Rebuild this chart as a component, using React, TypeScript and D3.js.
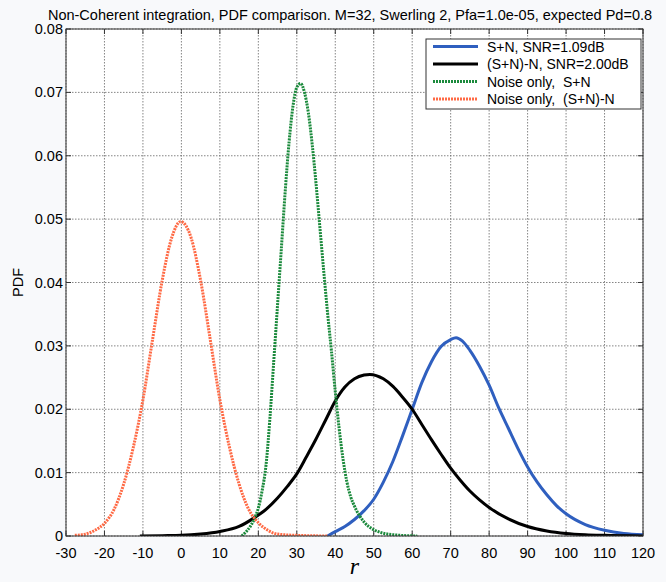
import React from "react";
import * as d3 from "d3";

// ---- data ----
const title =
  "Non-Coherent integration, PDF comparison. M=32, Swerling 2, Pfa=1.0e-05, expected Pd=0.8";
const xTicks = [-30, -20, -10, 0, 10, 20, 30, 40, 50, 60, 70, 80, 90, 100, 110, 120];
const yTicks = [0, 0.01, 0.02, 0.03, 0.04, 0.05, 0.06, 0.07, 0.08];
const yTickLabels = ["0", "0.01", "0.02", "0.03", "0.04", "0.05", "0.06", "0.07", "0.08"];

const legendLabels = [
  "S+N, SNR=1.09dB",
  "(S+N)-N, SNR=2.00dB",
  "Noise only,  S+N",
  "Noise only,  (S+N)-N",
];

// S+N (blue)
const snR = [38, 40, 42.5, 45, 47.5, 50, 52.5, 55, 57.5, 60, 62.5, 65, 67.5, 70, 71.4, 73, 75, 77.5, 80, 82.5, 85, 87.5, 90, 92.5, 95, 97.5, 100, 105, 110, 115, 120];
const snPdf = [0, 0.0007, 0.0015, 0.0026, 0.004, 0.0058, 0.0085, 0.0118, 0.0158, 0.02, 0.0242, 0.0275, 0.0299, 0.031, 0.0313, 0.0308, 0.0293, 0.0268, 0.0238, 0.0202, 0.017, 0.0138, 0.0109, 0.0085, 0.0065, 0.0048, 0.0035, 0.0018, 0.0009, 0.0004, 0.0002];

// (S+N)-N (black)
const diffR = [-10.8, -5, 0, 5, 10, 15, 19, 22, 25, 27.5, 30, 32.5, 35, 37.5, 40, 42.5, 45, 47.5, 49, 52.5, 55, 57.5, 60, 62.5, 65, 67.5, 70, 72.5, 75, 77.5, 80, 85, 90, 95, 100, 105, 110, 120];
const diffPdf = [0, 0.00005, 0.0001, 0.0003, 0.0007, 0.0015, 0.0029, 0.0042, 0.006, 0.0078, 0.0098, 0.0125, 0.0153, 0.0183, 0.0213, 0.0235, 0.0248, 0.0254, 0.0255, 0.0248, 0.0236, 0.0219, 0.02, 0.0176, 0.0152, 0.0129, 0.0107, 0.0088, 0.0071, 0.0057, 0.0045, 0.0027, 0.0015, 0.0008, 0.0004, 0.0002, 0.0001, 0];

// Noise only, S+N (green dotted)
const nsnR = [15.7, 17, 18, 19.1, 20, 21, 22, 23, 24, 25, 26, 27, 28, 29, 30, 31, 32, 33, 34, 35, 36, 37, 38, 39, 40, 41, 42, 43, 44, 45, 47.5, 50, 55, 61.3];
const nsnPdf = [0, 0.0008, 0.0016, 0.0029, 0.0044, 0.0072, 0.0112, 0.0185, 0.0275, 0.0365, 0.0455, 0.0545, 0.0622, 0.0678, 0.0708, 0.0714, 0.07, 0.0668, 0.0618, 0.0556, 0.0487, 0.0418, 0.0352, 0.0292, 0.0228, 0.017, 0.0122, 0.0086, 0.0062, 0.0047, 0.0022, 0.001, 0.0002, 0];

// Noise only, (S+N)-N (orange dotted)
const ndR = [-27.7, -25, -22.5, -20, -17.5, -15, -12.5, -10, -7.5, -5, -2.5, -0.2, 2.5, 5, 7.5, 10, 12.5, 15, 17.5, 20, 22.5, 25, 30, 38];
const ndPdf = [0.0001, 0.0003, 0.0009, 0.002, 0.0042, 0.0082, 0.014, 0.0215, 0.031, 0.0403, 0.0471, 0.0496, 0.0471, 0.0403, 0.031, 0.0215, 0.014, 0.0082, 0.0042, 0.0021, 0.0009, 0.0003, 0.0001, 0];

// ---- layout ----
const W = 666;
const H = 582;
const L = 66, R = 643, T = 29, B = 536;
const FONT = "'Liberation Sans', Arial, sans-serif";

const colors = ["#2f5fbf", "#000000", "#1b8a3c", "#ff6a45"];

export default function App() {
  const x = d3.scaleLinear().domain([-30, 120]).range([L, R]);
  const y = d3.scaleLinear().domain([0, 0.08]).range([B, T]);
  const line = d3
    .line<[number, number]>()
    .x((d) => x(d[0]))
    .y((d) => y(d[1]))
    .curve(d3.curveMonotoneX);

  const series = [
    { r: snR, p: snPdf, dash: undefined as string | undefined, w: 3 },
    { r: diffR, p: diffPdf, dash: undefined, w: 3 },
    { r: nsnR, p: nsnPdf, dash: "2,1", w: 3 },
    { r: ndR, p: ndPdf, dash: "2,1", w: 3 },
  ];

  const legX = 426, legY = 39, legW = 215, legH = 70;
  const rowY = [46.5, 64, 81.5, 99];

  return (
    <svg
      width={W}
      height={H}
      style={{ position: "absolute", left: 0, top: 0, display: "block" }}
      fontFamily={FONT}
    >
      <rect x={0} y={0} width={W} height={H} fill="#f8f9fb" />
      <rect x={L} y={T} width={R - L} height={B - T} fill="#ffffff" />
      {/* grid */}
      {xTicks.map((t) => (
        <line key={"gx" + t} x1={x(t)} x2={x(t)} y1={T} y2={B} stroke="#666" strokeWidth={0.8} strokeDasharray="1.5,1.5" />
      ))}
      {yTicks.map((t) => (
        <line key={"gy" + t} x1={L} x2={R} y1={y(t)} y2={y(t)} stroke="#666" strokeWidth={0.8} strokeDasharray="1.5,1.5" />
      ))}
      {/* ticks */}
      {xTicks.map((t) => (
        <g key={"tx" + t}>
          <line x1={x(t)} x2={x(t)} y1={B} y2={B - 5} stroke="#333" />
          <line x1={x(t)} x2={x(t)} y1={T} y2={T + 5} stroke="#333" />
        </g>
      ))}
      {yTicks.map((t) => (
        <g key={"ty" + t}>
          <line x1={L} x2={L + 5} y1={y(t)} y2={y(t)} stroke="#333" />
          <line x1={R} x2={R - 5} y1={y(t)} y2={y(t)} stroke="#333" />
        </g>
      ))}
      {/* curves */}
      <g clipPath="url(#clip)">
        {series.map((s, i) => (
          <path
            key={"s" + i}
            d={line(s.r.map((r, j) => [r, s.p[j]] as [number, number])) || ""}
            fill="none"
            stroke={colors[i]}
            strokeWidth={s.w}
            strokeDasharray={s.dash}
            strokeLinejoin="round"
          />
        ))}
      </g>
      <defs>
        <clipPath id="clip">
          <rect x={L} y={T - 2} width={R - L} height={B - T + 2} />
        </clipPath>
      </defs>
      {/* axes box */}
      <rect x={L} y={T} width={R - L} height={B - T} fill="none" stroke="#333" strokeWidth={1} />
      {/* tick labels */}
      {xTicks.map((t) => (
        <text key={"lx" + t} x={x(t)} y={558} textAnchor="middle" fontSize={14.5} fill="#000">
          {t}
        </text>
      ))}
      {yTicks.map((t, i) => (
        <text key={"ly" + t} x={L - 3} y={y(t) + 5} textAnchor="end" fontSize={14.5} fill="#000">
          {yTickLabels[i]}
        </text>
      ))}
      {/* labels */}
      <text x={(L + R) / 2} y={574} textAnchor="middle" fontSize={24} fontStyle="italic" fontFamily="'Liberation Serif', 'Times New Roman', serif">
        r
      </text>
      <text transform={`translate(23, ${(T + B) / 2}) rotate(-90)`} textAnchor="middle" fontSize={14.5}>
        PDF
      </text>
      <text x={350} y={20} textAnchor="middle" fontSize={14.5}>
        {title}
      </text>
      {/* legend */}
      <rect x={legX} y={legY} width={legW} height={legH} fill="#fff" stroke="#333" strokeWidth={1} />
      {legendLabels.map((lab, i) => (
        <g key={"lg" + i}>
          <line x1={433} x2={478} y1={rowY[i]} y2={rowY[i]} stroke={colors[i]} strokeWidth={3} strokeDasharray={series[i].dash} />
          <text x={487} y={rowY[i] + 5} fontSize={14} style={{ whiteSpace: "pre" }} xmlSpace="preserve">
            {lab}
          </text>
        </g>
      ))}
    </svg>
  );
}
